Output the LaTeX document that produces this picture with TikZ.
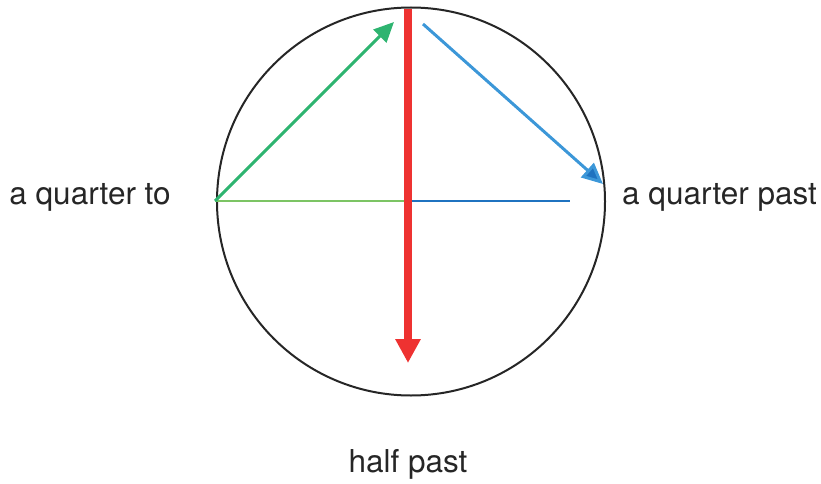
\documentclass[tikz,border=0pt]{standalone}
\usepackage{fontspec}
\setmainfont{TeX Gyre Heros}
\usetikzlibrary{arrows.meta}
\definecolor{hred}{HTML}{EE3231}
\definecolor{hgreen}{HTML}{2EB470}
\definecolor{lgreen}{HTML}{7CC464}
\definecolor{hblue}{HTML}{3C97D8}
\definecolor{dblue}{HTML}{1F73C0}
\tikzset{lbl/.style={font=\fontsize{31.5}{34}\selectfont, text=black!85, inner sep=0pt}}
\begin{document}
\begin{tikzpicture}[x=1pt,y=-1pt]
\useasboundingbox (0,0) rectangle (821,484);
\node[circle, draw=black!85, line width=2pt, minimum size=388pt, inner sep=0pt] (clock) at (411,201.5) {};
\coordinate (top) at (408,9);
\coordinate (ctr) at (408,201);
\coordinate (left) at (215,201);
\coordinate (gtip) at (394,22);
\coordinate (bstart) at (423,24);
\coordinate (btip) at (603,184);
\coordinate (bend) at (570,201);
\coordinate (rtip) at (408,363);
\draw[lgreen, line width=2pt] (left) -- (ctr);
\draw[dblue, line width=2pt] (ctr) -- (bend);
\draw[hgreen, line width=3pt, -{Triangle[length=20pt,width=18pt]}] (left) -- (gtip);
\draw[hblue, line width=3pt, -{Triangle[length=21pt,width=19pt,fill=dblue]}] (bstart) -- (btip);
\draw[hred, line width=7.5pt, -{Triangle[length=24pt,width=24pt]}] (top) -- (rtip);
\node[lbl, anchor=center] (qto) at (90,197) {a quarter to};
\node[lbl, anchor=center] (qpast) at (719.5,197) {a quarter past};
\node[lbl, anchor=center] (half) at (408,464) {half past};
\end{tikzpicture}
\end{document}
